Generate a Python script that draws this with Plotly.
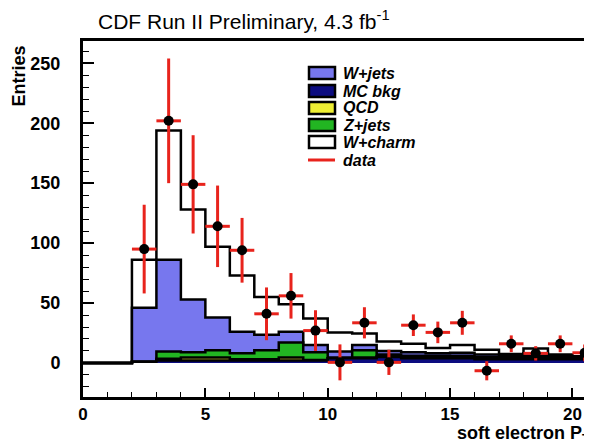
import plotly.graph_objects as go

# ---- data (bins of 1 GeV, from 0 to 21) ----
bin_edges = list(range(0, 22))
mc_bkg = [0, 0, 1, 2, 2, 2, 2, 2, 2, 2, 4, 4, 5, 4, 4, 4, 3, 3, 3, 3, 3]
qcd    = [0, 0, 0, 1.5, 2.5, 2.5, 1, 1, 2.5, 0.5, 0, 0.5, 0.5, 0.5, 0.5, 0.5, 0.5, 0.5, 1, 0.5, 0.5]
zjets  = [0, 0, 0, 6, 4.5, 6, 5, 7.5, 12.5, 6.5, 0.5, 6, 1.5, 1.5, 1.5, 1.5, 1.5, 1, 1.5, 1, 0.5]
wjets  = [0, 0, 45, 76.5, 44, 27.5, 18, 13, 9, 6, 5, 4.5, 3, 3, 2, 2.5, 2, 1.5, 2.5, 1, 1]
total  = [0, 0, 86, 194, 128, 97, 73, 55, 49, 37, 25.5, 24.5, 18, 16, 12.5, 15, 11, 7.5, 12, 7, 5.5]

data_x   = [2.5, 3.5, 4.5, 5.5, 6.5, 7.5, 8.5, 9.5, 10.5, 11.5, 12.5, 13.5, 14.5, 15.5, 16.5, 17.5, 18.5, 19.5, 20.5]
data_y   = [95, 202, 149, 114, 94, 41, 56, 27, 0.5, 33.5, 0.5, 31.5, 25.5, 33.5, -6.5, 16, 8, 16, 8.5]
data_err = [37, 52, 41, 34, 27, 22, 19, 17, 15, 13, 10.5, 9, 9, 10, 8, 7, 6, 7, 7]

x_ticks = [0, 5, 10, 15, 20]
y_ticks = [0, 50, 100, 150, 200, 250]

colors = {"W+jets": "#7777ee", "MC bkg": "#0c0c80", "QCD": "#eeee33",
          "Z+jets": "#22b522", "W+charm": "#ffffff"}
RED = "#e8231c"

# cumulative stacks: bottom -> top : MC bkg, QCD, Z+jets, W+jets, W+charm
def cum(*arrs):
    return [sum(v) for v in zip(*arrs)]

c_mc = mc_bkg
c_qcd = cum(mc_bkg, qcd)
c_z = cum(mc_bkg, qcd, zjets)
c_w = cum(mc_bkg, qcd, zjets, wjets)
c_tot = total

fig = go.Figure()

def step_trace(vals, color, name):
    ys = list(vals) + [vals[-1]]
    return go.Scatter(x=bin_edges, y=ys, mode="lines", line_shape="hv",
                      line=dict(color="black", width=2.5),
                      fill="tozeroy", fillcolor=color, name=name,
                      showlegend=False, hoverinfo="skip")

fig.add_trace(step_trace(c_tot, colors["W+charm"], "W+charm"))
fig.add_trace(step_trace(c_w, colors["W+jets"], "W+jets"))
fig.add_trace(step_trace(c_z, colors["Z+jets"], "Z+jets"))
fig.add_trace(step_trace(c_qcd, colors["QCD"], "QCD"))
fig.add_trace(step_trace(c_mc, colors["MC bkg"], "MC bkg"))

fig.add_trace(go.Scatter(
    x=data_x, y=data_y, mode="markers", name="data", showlegend=False,
    marker=dict(color="black", size=10),
    error_y=dict(type="data", array=data_err, color=RED, thickness=3, width=0),
    error_x=dict(type="constant", value=0.5, color=RED, thickness=3, width=0),
))

# the page adds an 8px body margin; work in page pixels and offset
OFF = 8
W, H = 592 - OFF, 444 - OFF
PL, PT, PB, PR = 83, 41, 397, 592   # plot area in page pixels
L, T = PL - OFF, PT - OFF
B = H - (PB - OFF)
R = 0

def px(xp):
    return (xp - PL) / (PR - PL)
def py(yp):
    return (PB - yp) / (PB - PT)

FONT = "Liberation Sans, Arial, sans-serif"

shapes = []
annotations = []
# legend
leg_rows = [73, 91, 108, 125, 142, 160]
leg_items = ["W+jets", "MC bkg", "QCD", "Z+jets", "W+charm", "data"]
for yrow, name in zip(leg_rows, leg_items):
    if name == "data":
        shapes.append(dict(type="line", xref="paper", yref="paper",
                           x0=px(308), x1=px(335), y0=py(yrow), y1=py(yrow),
                           line=dict(color=RED, width=3)))
    else:
        shapes.append(dict(type="rect", xref="paper", yref="paper",
                           x0=px(309), x1=px(335), y0=py(yrow + 6), y1=py(yrow - 6),
                           fillcolor=colors[name], line=dict(color="black", width=2.5)))
    annotations.append(dict(xref="paper", yref="paper", x=px(341), y=py(yrow),
                            xanchor="left", yanchor="middle", showarrow=False,
                            text="<b><i>%s</i></b>" % name,
                            font=dict(family=FONT, size=16, color="black")))

annotations.append(dict(xref="paper", yref="paper", x=px(96), y=py(20),
                        xanchor="left", yanchor="middle", showarrow=False,
                        text="CDF Run II Preliminary, 4.3 fb<sup>-1</sup>",
                        font=dict(family=FONT, size=21, color="black")))
annotations.append(dict(xref="paper", yref="paper", x=px(19), y=py(44),
                        xanchor="center", yanchor="top", showarrow=False,
                        textangle=-90, text="<b>Entries</b>",
                        font=dict(family=FONT, size=18, color="black")))
annotations.append(dict(xref="paper", yref="paper", x=px(455), y=py(434),
                        xanchor="left", yanchor="middle", showarrow=False,
                        text="<b>soft electron P<sub>T</sub></b>",
                        font=dict(family=FONT, size=18, color="black")))

fig.update_layout(
    width=W, height=H,
    margin=dict(l=L, r=R, t=T, b=B, pad=0),
    paper_bgcolor="white", plot_bgcolor="white",
    showlegend=False,
    shapes=shapes, annotations=annotations,
    xaxis=dict(range=[0, 20.8], tickmode="array", tickvals=x_ticks,
               ticktext=[str(v) for v in x_ticks],
               ticks="inside", ticklen=9, tickwidth=1.5, tickcolor="black",
               minor=dict(dtick=1, ticks="inside", ticklen=5, tickwidth=1.2, tickcolor="black"),
               showline=True, linecolor="black", linewidth=3, mirror=True,
               showgrid=False, zeroline=False, ticklabelstandoff=0,
               tickfont=dict(family=FONT, size=17, color="black", weight="bold")),
    yaxis=dict(range=[-28.4, 268.6], tickmode="array", tickvals=y_ticks,
               ticktext=[str(v) for v in y_ticks],
               ticks="inside", ticklen=11, tickwidth=1.5, tickcolor="black",
               minor=dict(dtick=10, ticks="inside", ticklen=6, tickwidth=1.2, tickcolor="black"),
               showline=True, linecolor="black", linewidth=3, mirror=False,
               showgrid=False, zeroline=False, ticklabelstandoff=16,
               tickfont=dict(family=FONT, size=18, color="black", weight="bold")),
)

fig.write_html("out.html")
